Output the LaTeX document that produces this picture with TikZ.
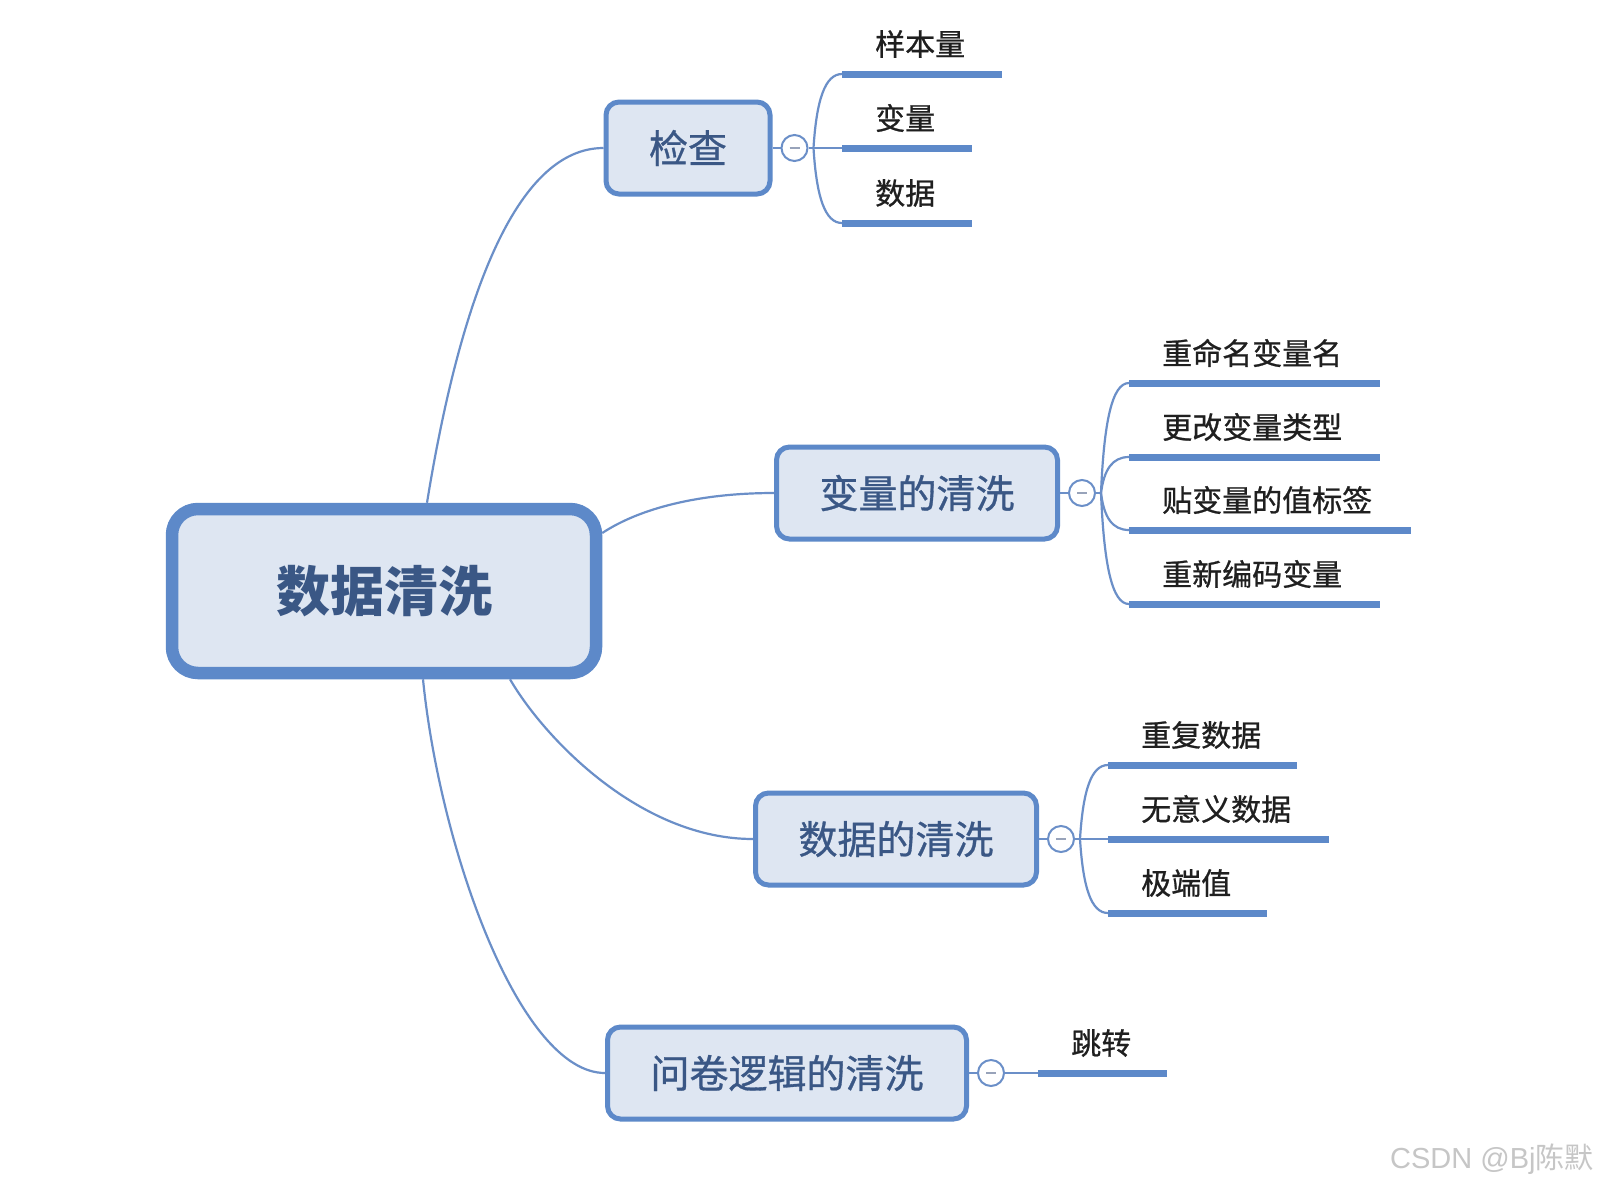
\documentclass[tikz,border=0pt]{standalone}
\usepackage{fontspec}
\setmainfont{Noto Sans CJK SC}
\newfontfamily\medfont{Noto Sans CJK SC}[FakeBold=0.8]
\newfontfamily\latinfont{Liberation Sans}
\usepackage{tikz}
\usetikzlibrary{calc,positioning}

\definecolor{rimblue}{HTML}{5D89C9}
\definecolor{paleblue}{HTML}{DEE6F2}
\definecolor{inkblue}{HTML}{3A5785}
\definecolor{linkblue}{HTML}{6B8FC8}
\definecolor{minusgray}{HTML}{98A3BA}
\definecolor{leafink}{HTML}{1F1F1F}
\definecolor{markgray}{HTML}{C6C6C6}

\begin{document}
\begin{tikzpicture}[x=1pt,y=-1pt]
	\tikzstyle{root} = [rectangle, rounded corners=26pt, draw=rimblue, line width=12.5pt, fill=paleblue, text=inkblue, font=\bfseries\fontsize{54}{60}\selectfont, inner xsep=104pt, minimum height=164pt]
	\tikzstyle{topic} = [rectangle, rounded corners=13pt, draw=rimblue, line width=5pt, fill=paleblue, text=inkblue, font=\medfont\fontsize{39}{44}\selectfont, inner xsep=43pt, minimum height=92pt]
	\tikzstyle{fold} = [circle, draw=linkblue, line width=2pt, fill=white, text=minusgray, minimum size=26pt, inner sep=0pt]
	\tikzstyle{leaf} = [anchor=west, inner sep=0pt, text=leafink, font=\medfont\fontsize{30}{36}\selectfont]
	\tikzstyle{link} = [draw=linkblue, line width=2.2pt]
	\tikzstyle{bar} = [draw=rimblue, line width=7pt]

	\fill[white] (0,0) rectangle (1601,1187);
	\useasboundingbox (0,0) rectangle (1601,1187);

\node[root] (root) at (384,591) {数据清洗};
\node[topic] (chk) at (688,148) {检查};
\node[topic] (var) at (917,493) {变量的清洗};
\node[topic] (dat) at (896,839) {数据的清洗};
\node[topic] (qst) at (787,1073) {问卷逻辑的清洗};

\node[fold, right=8pt of chk] (fchk) {\rule{10pt}{2.5pt}};
\node[fold, right=8pt of var] (fvar) {\rule{10pt}{2.5pt}};
\node[fold, right=8pt of dat] (fdat) {\rule{10pt}{2.5pt}};
\node[fold, right=8pt of qst] (fqst) {\rule{10pt}{2.5pt}};

\coordinate[right=5pt of fchk] (kchk);
\coordinate[right=5pt of fvar] (kvar);
\coordinate[right=5pt of fdat] (kdat);

\coordinate (chk1) at (842,74);
\coordinate (chk2) at (842,148);
\coordinate (chk3) at (842,223);
\coordinate (var1) at (1129,383);
\coordinate (var2) at (1129,457);
\coordinate (var3) at (1129,530);
\coordinate (var4) at (1129,604);
\coordinate (dat1) at (1108,765);
\coordinate (dat2) at (1108,839);
\coordinate (dat3) at (1108,913);
\coordinate (qst1) at (1038,1073);

	\path[link] ($(root.north)+(43,0)$) .. controls +(33,-203) and +(-88,0) .. (chk.west);
	\path[link] ($(root.east)+(0,-58)$) .. controls +(38,-25) and +(-74,0) .. (var.west);
	\path[link] ($(root.south)+(126,0)$) .. controls +(35,60) and +(-112,0) .. (dat.west);
	\path[link] ($(root.south)+(39,0)$) .. controls +(17,170) and +(-85,0) .. (qst.west);

	\path[link] (chk) -- (fchk);
	\path[link] (var) -- (fvar);
	\path[link] (dat) -- (fdat);
	\path[link] (qst) -- (fqst);

	\path[link] (fchk) -- (kchk);
	\path[link] (kchk) .. controls +(3,-48) and +(-17,0) .. (chk1);
	\path[link] (kchk) -- (chk2);
	\path[link] (kchk) .. controls +(3,49) and +(-17,0) .. (chk3);

	\path[link] (fvar) -- (kvar);
	\path[link] (kvar) .. controls +(3,-71) and +(-17,0) .. (var1);
	\path[link] (kvar) .. controls +(3,-23) and +(-17,0) .. (var2);
	\path[link] (kvar) .. controls +(3,24) and +(-17,0) .. (var3);
	\path[link] (kvar) .. controls +(3,72) and +(-17,0) .. (var4);

	\path[link] (fdat) -- (kdat);
	\path[link] (kdat) .. controls +(3,-48) and +(-17,0) .. (dat1);
	\path[link] (kdat) -- (dat2);
	\path[link] (kdat) .. controls +(3,48) and +(-17,0) .. (dat3);

	\path[link] (fqst) -- (qst1);

	\path[bar] (chk1) -- ++(160,0);
	\path[bar] (chk2) -- ++(130,0);
	\path[bar] (chk3) -- ++(130,0);
	\path[bar] (var1) -- ++(251,0);
	\path[bar] (var2) -- ++(251,0);
	\path[bar] (var3) -- ++(282,0);
	\path[bar] (var4) -- ++(251,0);
	\path[bar] (dat1) -- ++(189,0);
	\path[bar] (dat2) -- ++(221,0);
	\path[bar] (dat3) -- ++(159,0);
	\path[bar] (qst1) -- ++(129,0);

\node[leaf] (t1) at ($(chk1)+(33,-30)$) {样本量};
\node[leaf] (t2) at ($(chk2)+(33,-30)$) {变量};
\node[leaf] (t3) at ($(chk3)+(33,-30)$) {数据};
\node[leaf] (t4) at ($(var1)+(33,-30)$) {重命名变量名};
\node[leaf] (t5) at ($(var2)+(33,-30)$) {更改变量类型};
\node[leaf] (t6) at ($(var3)+(33,-30)$) {贴变量的值标签};
\node[leaf] (t7) at ($(var4)+(33,-30)$) {重新编码变量};
\node[leaf] (t8) at ($(dat1)+(33,-30)$) {重复数据};
\node[leaf] (t9) at ($(dat2)+(33,-30)$) {无意义数据};
\node[leaf] (t10) at ($(dat3)+(33,-30)$) {极端值};
\node[leaf] (t11) at ($(qst1)+(33,-30)$) {跳转};

\node[anchor=west, inner sep=0pt, text=markgray, font=\fontsize{29}{34}\selectfont] (mark) at (1390,1159) {{\latinfont CSDN @Bj}陈默};
	\end{tikzpicture}
\end{document}
